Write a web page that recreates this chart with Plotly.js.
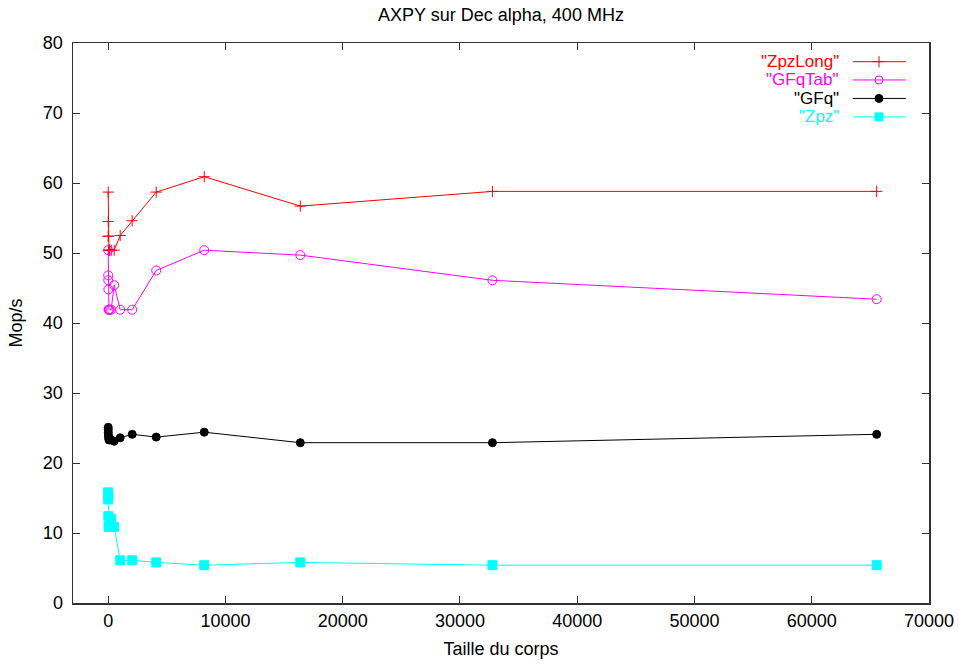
<!DOCTYPE html>
<html>
<head>
<meta charset="utf-8">
<script src="https://cdn.plot.ly/plotly-3.0.1.min.js"></script>
<style>html,body{margin:0;padding:0;background:#fff;}#chart{width:959px;height:666px;}</style>
</head>
<body>
<div id="chart"></div>
<script>
// Data
const sizes = [2, 4, 8, 16, 32, 64, 128, 256, 512, 1024, 2048, 4096, 8192, 16384, 32768, 65536];
const zpzLong = [58.7, 54.5, 52.4, 52.4, 50.4, 50.4, 50.4, 50.4, 50.4, 52.5, 54.6, 58.7, 60.9, 56.7, 58.8, 58.8];
const gfqTab  = [50.4, 46.8, 46.1, 44.8, 41.9, 41.9, 41.9, 41.9, 45.4, 41.9, 41.9, 47.5, 50.4, 49.7, 46.1, 43.4];
const gfq     = [25.1, 24.8, 24.4, 24.0, 23.6, 23.3, 23.3, 23.3, 23.1, 23.6, 24.1, 23.7, 24.4, 22.9, 22.9, 24.1];
const zpz     = [15.8, 15.3, 14.8, 12.4, 10.9, 10.9, 11.0, 12.0, 10.9, 6.1, 6.1, 5.8, 5.4, 5.8, 5.4, 5.4];

const seriesNames = ['"ZpzLong"', '"GFqTab"', '"GFq"', '"Zpz"'];
const seriesValues = [zpzLong, gfqTab, gfq, zpz];
const colors = ['#ff0000', '#ff00ff', '#000000', '#00ffff'];
const symbols = ['cross-thin-open', 'circle-open', 'circle', 'square'];
const markerSizes = [8, 9, 8, 9];

const titleText = 'AXPY sur Dec alpha, 400 MHz';
const xTitle = 'Taille du corps';
const yTitle = 'Mop/s';

const FONT = 'Liberation Sans, Arial, Helvetica, sans-serif';
const FS = 18;

const traces = [];
seriesValues.forEach((vals, i) => {
  traces.push({
    x: sizes, y: vals, type: 'scatter', mode: 'lines+markers',
    name: seriesNames[i], showlegend: false,
    line: {color: colors[i], width: 1},
    marker: {symbol: symbols[i], size: markerSizes[i], color: colors[i],
             line: {color: colors[i], width: 1}}
  });
});

// Legend samples drawn on a hidden overlay axis (0..1 paper-like)
const legY = [0.9666, 0.934, 0.901, 0.868];
const legX0 = 0.911, legX1 = 0.973, legXm = 0.9416, legTextX = 0.897;
const annotations = [];
seriesNames.forEach((n, i) => {
  traces.push({
    x: [legX0, legX1], y: [legY[i], legY[i]], xaxis: 'x2', yaxis: 'y2',
    type: 'scatter', mode: 'lines', showlegend: false, hoverinfo: 'skip',
    line: {color: colors[i], width: 1}
  });
  traces.push({
    x: [legXm], y: [legY[i]], xaxis: 'x2', yaxis: 'y2',
    type: 'scatter', mode: 'markers', showlegend: false, hoverinfo: 'skip',
    marker: {symbol: symbols[i], size: 8, color: colors[i],
             line: {color: colors[i], width: 1}}
  });
  annotations.push({
    xref: 'paper', yref: 'paper', x: legTextX, y: legY[i],
    xanchor: 'right', yanchor: 'middle', showarrow: false,
    text: n, font: {family: FONT, size: 17, color: colors[i]}
  });
});

const axisCommon = {
  showgrid: false, zeroline: false, showline: true, linecolor: '#333',
  linewidth: 1.5, mirror: 'ticks', ticks: 'inside', ticklen: 7,
  tickcolor: '#333', tickwidth: 1,
  tickfont: {family: FONT, size: FS, color: '#000'}
};

const layout = {
  width: 959, height: 666,
  margin: {l: 73, r: 30, t: 43, b: 63},
  paper_bgcolor: '#fff', plot_bgcolor: '#fff',
  showlegend: false,
  title: {text: titleText, font: {family: FONT, size: FS, color: '#000'},
          x: 0.5, xref: 'paper', xanchor: 'center', y: 1 - 15/666, yref: 'container', yanchor: 'middle'},
  xaxis: Object.assign({}, axisCommon, {
    range: [-3000, 70000], tick0: 0, dtick: 10000, tickformat: 'd',
    ticklabelstandoff: 1,
    title: {text: xTitle, font: {family: FONT, size: FS, color: '#000'}, standoff: 12}
  }),
  yaxis: Object.assign({}, axisCommon, {
    range: [0, 80], tick0: 0, dtick: 10, ticklabelstandoff: 5,
    title: {text: yTitle, font: {family: FONT, size: FS, color: '#000'}, standoff: 15}
  }),
  xaxis2: {overlaying: 'x', range: [0, 1], visible: false, fixedrange: true},
  yaxis2: {overlaying: 'y', range: [0, 1], visible: false, fixedrange: true},
  annotations: annotations
};

Plotly.newPlot('chart', traces, layout, {displayModeBar: false, staticPlot: true});
</script>
</body>
</html>
